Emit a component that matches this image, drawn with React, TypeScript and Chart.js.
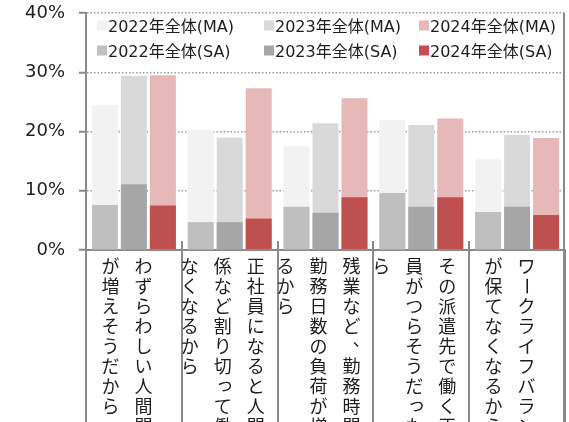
import React, { useEffect, useRef } from "react";
import { Chart, registerables } from "chart.js";

Chart.register(...registerables);

const categories = [
  "わずらわしい人間関係が増えそうだから",
  "正社員になると人間関係など割り切って働けなくなるから",
  "残業など、勤務時間・勤務日数の負荷が増えるから",
  "その派遣先で働く正社員がつらそうだったから",
  "ワークライフバランスが保てなくなるから",
];
const seriesNames = [
  "2022年全体(MA)",
  "2023年全体(MA)",
  "2024年全体(MA)",
  "2022年全体(SA)",
  "2023年全体(SA)",
  "2024年全体(SA)",
];
const years = ["2022", "2023", "2024"];
const ma2022 = [24.5, 20.3, 17.5, 21.9, 15.3];
const ma2023 = [29.4, 19.0, 21.4, 21.1, 19.4];
const ma2024 = [29.5, 27.3, 25.6, 22.2, 18.9];
const sa2022 = [7.6, 4.7, 7.3, 9.6, 6.4];
const sa2023 = [11.1, 4.7, 6.3, 7.3, 7.3];
const sa2024 = [7.5, 5.3, 8.9, 8.9, 5.9];
const yTickValues = [0, 10, 20, 30, 40];
const yTickLabels = ["0%", "10%", "20%", "30%", "40%"];

const FONT = "'DejaVu Sans', 'Noto Sans CJK JP', sans-serif";
const CJK_FONT = "'Noto Sans CJK JP', sans-serif";
const AXIS = "#898989";
const GRID = "#9c9c9c";
const TEXT = "#1e1e1e";
const COLORS = ["#f2f2f2", "#d9d9d9", "#e6b9b8", "#bfbfbf", "#a6a6a6", "#c0504d"];

const CHARS_PER_COL = 10;
const COL_SPACING = 33;
const CHAR_PITCH = 20;
const CJK_SIZE = 18;

function drawVChar(ctx: CanvasRenderingContext2D, ch: string, x: number, y: number, size: number) {
  if (ch === "ー" || ch === "～") {
    ctx.save();
    ctx.translate(x, y);
    ctx.rotate(Math.PI / 2);
    ctx.fillText(ch, 0, 0);
    ctx.restore();
    return;
  }
  if ("、。".includes(ch)) {
    ctx.fillText(ch, x + size * 0.55, y - size * 0.4);
    return;
  }
  if ("っゃゅょぁぃぅぇぉッャュョァィゥェォ".includes(ch)) {
    ctx.fillText(ch, x + size * 0.12, y - size * 0.12);
    return;
  }
  ctx.fillText(ch, x, y);
}

const decorPlugin = {
  id: "decor",
  afterDraw(chart: any) {
    const ctx: CanvasRenderingContext2D = chart.ctx;
    const area = chart.chartArea;
    const xs = chart.scales.x;
    const H = chart.height;
    ctx.save();
    ctx.fillStyle = AXIS;
    // right border of the plot, continuing through the label area
    ctx.fillRect(Math.round(area.right) - 2, Math.round(area.top), 2, H - Math.round(area.top));
    // small upward ticks at category boundaries
    for (let i = 1; i < categories.length; i++) {
      const bx = Math.round((xs.getPixelForValue(i - 1) + xs.getPixelForValue(i)) / 2);
      ctx.fillRect(bx - 1, Math.round(area.bottom) - 9, 2, 9);
    }

    // legend inside plot area
    const legendCols = [11, 178, 333];
    const legendRows = [18.5, 43.5];
    ctx.font = `16px ${FONT}`;
    ctx.textAlign = "left";
    ctx.textBaseline = "alphabetic";
    chart.data.datasets.forEach((ds: any, i: number) => {
      const col = i % 3;
      const row = Math.floor(i / 3);
      const lx = area.left + legendCols[col];
      const ly = area.top + legendRows[row];
      ctx.fillStyle = ds.backgroundColor;
      ctx.fillRect(lx, ly - 11, 10, 10);
      ctx.fillStyle = TEXT;
      ctx.fillText(ds.label, lx + 11, ly);
    });

    // vertical Japanese category labels
    ctx.font = `${CJK_SIZE}px ${CJK_FONT}`;
    ctx.textAlign = "center";
    ctx.textBaseline = "middle";
    ctx.fillStyle = TEXT;
    categories.forEach((label, i) => {
      const chars = Array.from(label);
      const cols: string[][] = [];
      for (let k = 0; k < chars.length; k += CHARS_PER_COL) cols.push(chars.slice(k, k + CHARS_PER_COL));
      const cx = xs.getPixelForValue(i) - 7;
      const n = cols.length;
      cols.forEach((col, c) => {
        const colX = cx + ((n - 1) / 2 - c) * COL_SPACING;
        col.forEach((ch, r) => {
          const cy = area.bottom + 16 + r * CHAR_PITCH;
          drawVChar(ctx, ch, colX, cy, CJK_SIZE);
        });
      });
    });
    ctx.restore();
  },
};

export default function App() {
  const canvasRef = useRef<HTMLCanvasElement | null>(null);

  useEffect(() => {
    document.body.style.margin = "0";
    const canvas = canvasRef.current;
    if (!canvas) return;
    const maSeries = [ma2022, ma2023, ma2024];
    const saSeries = [sa2022, sa2023, sa2024];
    const datasets: any[] = [];
    maSeries.forEach((d, k) => {
      datasets.push({
        label: seriesNames[k],
        data: d,
        backgroundColor: COLORS[k],
        stack: years[k],
        order: 1,
        borderWidth: 0,
      });
    });
    saSeries.forEach((d, k) => {
      datasets.push({
        label: seriesNames[k + 3],
        data: d,
        backgroundColor: COLORS[k + 3],
        stack: years[k],
        order: 0,
        borderWidth: 0,
      });
    });

    const chart = new Chart(canvas, {
      type: "bar",
      data: { labels: categories, datasets },
      options: {
        responsive: false,
        animation: false,
        devicePixelRatio: 1,
        layout: { padding: { top: 13, right: 4, left: 0, bottom: 0 } },
        datasets: {
          bar: { categoryPercentage: 0.908, barPercentage: 0.897 },
        },
        plugins: {
          legend: { display: false },
          tooltip: { enabled: false },
        },
        scales: {
          x: {
            stacked: true,
            offset: true,
            ticks: { display: false },
            grid: {
              display: true,
              offset: true,
              drawOnChartArea: false,
              drawTicks: true,
              tickLength: 172,
              color: AXIS,
              lineWidth: 2,
            },
            border: { display: true, color: AXIS, width: 2 },
          },
          y: {
            stacked: false,
            min: 0,
            max: 40,
            afterBuildTicks: (scale: any) => {
              scale.ticks = yTickValues.map((v) => ({ value: v }));
            },
            afterFit: (scale: any) => {
              scale.width = 86;
              scale.paddingTop = 0;
              scale.paddingBottom = 0;
            },
            ticks: {
              callback: (_v: any, i: number) => yTickLabels[i],
              font: { size: 18, family: FONT },
              color: TEXT,
              padding: 14,
            },
            grid: {
              color: GRID,
              lineWidth: 1.5,
              drawTicks: true,
              tickLength: 7,
              tickColor: AXIS,
              tickWidth: 2,
              tickBorderDash: [],
            } as any,
            border: { display: true, color: AXIS, width: 2, dash: [1.5, 2] },
          },
        },
      },
      plugins: [decorPlugin],
    } as any);

    return () => chart.destroy();
  }, []);

  return (
    <div style={{ width: 569, height: 422, overflow: "hidden" }}>
      <canvas ref={canvasRef} width={569} height={422} style={{ display: "block" }} />
    </div>
  );
}
